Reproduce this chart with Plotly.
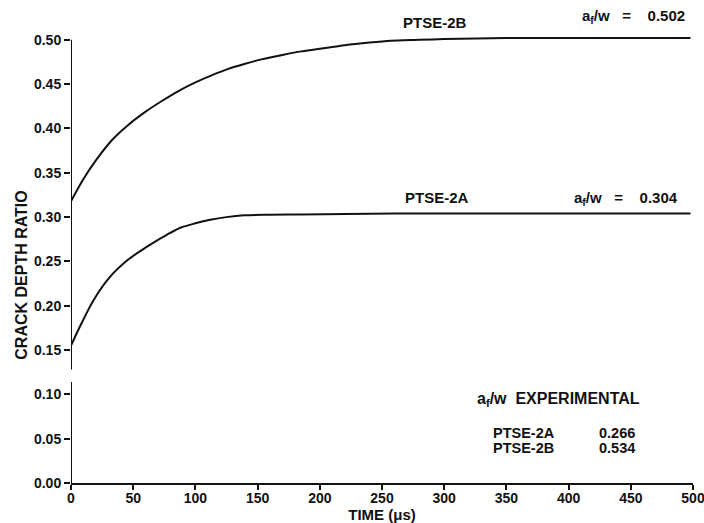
import plotly.graph_objects as go

# ---- data ----
time_2b = [0, 10, 20, 33, 46, 60, 73, 86, 100, 113, 126, 140, 153, 170, 185, 200, 220, 240, 257, 280, 300, 350, 400, 450, 498]
ratio_2b = [0.318, 0.343, 0.364, 0.387, 0.404, 0.419, 0.431, 0.442, 0.452, 0.460, 0.467, 0.473, 0.478, 0.483, 0.487,
            0.490, 0.494, 0.497, 0.499, 0.500, 0.501, 0.502, 0.502, 0.502, 0.502]

time_2a = [0, 7, 18, 31, 45, 56, 66, 77, 88, 100, 112, 125, 139, 160, 184, 220, 260, 300, 350, 400, 450, 498]
ratio_2a = [0.155, 0.176, 0.206, 0.232, 0.251, 0.262, 0.271, 0.280, 0.288, 0.293, 0.297, 0.300, 0.302, 0.3027,
            0.303, 0.3035, 0.304, 0.304, 0.304, 0.304, 0.304, 0.304]

x_ticks = [0, 50, 100, 150, 200, 250, 300, 350, 400, 450, 500]
y_ticks = [0.00, 0.05, 0.10, 0.15, 0.20, 0.25, 0.30, 0.35, 0.40, 0.45, 0.50]

exp_names = ["PTSE-2A", "PTSE-2B"]
exp_values = ["0.266", "0.534"]

FONT = "Liberation Sans"
INK = "#111111"
NB = "\u00a0"

fig = go.Figure()
fig.add_trace(go.Scatter(x=time_2b, y=ratio_2b, mode="lines", line=dict(color=INK, width=2, shape="spline", smoothing=0.6),
                         showlegend=False, hoverinfo="skip"))
fig.add_trace(go.Scatter(x=time_2a, y=ratio_2a, mode="lines", line=dict(color=INK, width=2, shape="spline", smoothing=0.9),
                         showlegend=False, hoverinfo="skip"))

# broken y axis line
fig.add_shape(type="line", xref="x", yref="y", x0=0, x1=0, y0=0, y1=0.114, line=dict(color=INK, width=2))
fig.add_shape(type="line", xref="x", yref="y", x0=0, x1=0, y0=0.128, y1=0.50, line=dict(color=INK, width=2))

def bf(size):
    return dict(family=FONT, size=size, color=INK, weight="bold")

af = "a<sub>f</sub>/w"
eq = NB * 3 + "=" + NB * 4
ann = []
ann.append(dict(x=293, y=1.019, xref="x", yref="paper", text="PTSE-2B", showarrow=False, font=bf(15),
                yanchor="middle"))
ann.append(dict(x=495.5, y=1.031, xref="x", yref="paper", text=af + eq + "0.502", showarrow=False,
                xanchor="right", yanchor="middle", font=bf(15)))
ann.append(dict(x=294, y=0.322, xref="x", yref="y", text="PTSE-2A", showarrow=False, font=bf(15),
                yanchor="middle"))
ann.append(dict(x=489.5, y=0.321, xref="x", yref="y", text=af + eq + "0.304", showarrow=False,
                xanchor="right", yanchor="middle", font=bf(15)))
ann.append(dict(x=391.5, y=0.0945, xref="x", yref="y", text=af + NB * 2 + "EXPERIMENTAL", showarrow=False,
                xanchor="center", yanchor="middle", font=bf(16)))
for i, (n, v) in enumerate(zip(exp_names, exp_values)):
    yy = 0.0565 - i * 0.0168
    ann.append(dict(x=338, y=yy, xref="x", yref="y", text=n, showarrow=False, xanchor="left",
                    yanchor="middle", font=bf(14.5)))
    ann.append(dict(x=423, y=yy, xref="x", yref="y", text=v, showarrow=False, xanchor="left",
                    yanchor="middle", font=bf(14.5)))
ann.append(dict(x=-0.0788, y=0.235, xref="paper", yref="y", text="CRACK DEPTH RATIO", textangle=-90,
                xanchor="center", yanchor="middle", showarrow=False, font=bf(16)))
fig.update_layout(annotations=ann)

fig.update_layout(
    width=704, height=523,
    margin=dict(l=71, r=11, t=31.1, b=39.7),
    paper_bgcolor="white", plot_bgcolor="white",
    showlegend=False,
    xaxis=dict(range=[0, 500], tickvals=x_ticks, ticktext=[str(t) for t in x_ticks], automargin=False,
               showline=True, linecolor=INK, linewidth=2, ticks="outside", ticklen=5, tickwidth=1.5,
               tickcolor=INK, showgrid=False, zeroline=False, ticklabelstandoff=-4,
               ticklabeloverflow="allow",
               tickfont=bf(14),
               title=dict(text="TIME (\u03bcs)", font=bf(15), standoff=6)),
    yaxis=dict(range=[0, 0.51], tickvals=y_ticks, ticktext=["%.2f" % v for v in y_ticks], automargin=False,
               showline=False, ticks="outside", ticklen=6, tickwidth=1.5, tickcolor=INK,
               ticklabeloverflow="allow",
               showgrid=False, zeroline=False, tickfont=bf(14)),
)

fig.write_html("out.html", config={"displayModeBar": False},
               post_script="document.body.style.margin='0';document.body.style.overflow='hidden';")
